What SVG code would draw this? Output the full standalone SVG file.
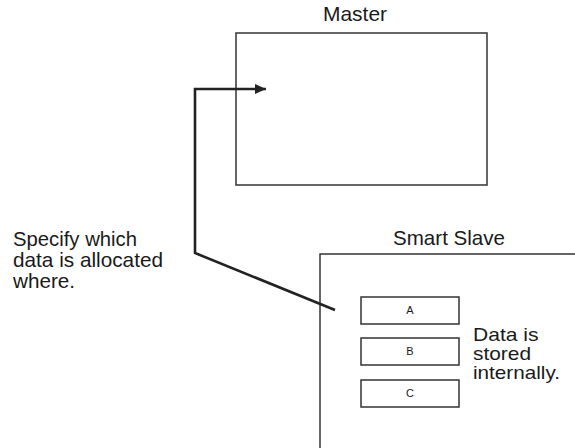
<svg xmlns="http://www.w3.org/2000/svg" width="575" height="448" viewBox="0 0 575 448">
<defs>
<style>
.t{font-family:"Liberation Sans",Arial,sans-serif;fill:#1a1a1a}
.big{font-size:20.3px}
.mid{font-size:18.4px}
.small{font-size:11px;text-anchor:middle}
.box{fill:#fff;stroke:#333;stroke-width:1.5}
.conn{fill:none;stroke:#222;stroke-width:2.6;stroke-linejoin:miter}
</style>
<marker id="arr" markerWidth="11" markerHeight="10" refX="11" refY="5" orient="auto" markerUnits="userSpaceOnUse">
<path d="M0,0 L11,5 L0,10 Z" fill="#222"/>
</marker>
</defs>
<rect width="575" height="448" fill="#fff"/>
<g id="master">
<text class="t big" x="323" y="21" textLength="64" lengthAdjust="spacingAndGlyphs">Master</text>
<rect class="box" x="236" y="33" width="251" height="152"/>
</g>
<g id="smart-slave">
<text class="t big" x="393" y="245" textLength="112" lengthAdjust="spacingAndGlyphs">Smart Slave</text>
<path d="M576,254 H320 V449" fill="none" stroke="#333" stroke-width="1.5"/>
</g>
<g id="box-a">
<rect class="box" x="361" y="297" width="98" height="27"/>
<text class="t small" x="410" y="314">A</text>
</g>
<g id="box-b">
<rect class="box" x="361" y="338" width="98" height="27"/>
<text class="t small" x="410" y="355">B</text>
</g>
<g id="box-c">
<rect class="box" x="361" y="380" width="98" height="27"/>
<text class="t small" x="410" y="397">C</text>
</g>
<g id="label-specify">
<text class="t big" x="13" y="246" textLength="124" lengthAdjust="spacingAndGlyphs">Specify which</text>
<text class="t big" x="13" y="266.7" textLength="150" lengthAdjust="spacingAndGlyphs">data is allocated</text>
<text class="t big" x="13" y="288" textLength="62" lengthAdjust="spacingAndGlyphs">where.</text>
</g>
<g id="label-data">
<text class="t mid" x="473" y="341" textLength="65.5" lengthAdjust="spacingAndGlyphs">Data is</text>
<text class="t mid" x="473" y="360" textLength="58" lengthAdjust="spacingAndGlyphs">stored</text>
<text class="t mid" x="473" y="379.2" textLength="87" lengthAdjust="spacingAndGlyphs">internally.</text>
</g>
<g id="connectors">
<path class="conn" d="M335,310 L195,253 V89 H266" marker-end="url(#arr)"/>
</g>
</svg>
